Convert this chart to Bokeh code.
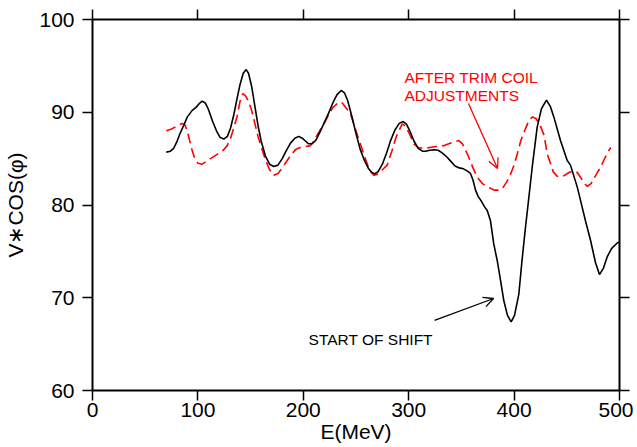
from bokeh.plotting import figure
from bokeh.models import LinearAxis, Range1d, Label, Arrow, OpenHead, FixedTicker
from bokeh.embed import file_html
from bokeh.resources import INLINE

# --- data ---
black_x = [70, 74, 77, 80, 83, 86.6, 90, 94.6, 98, 101, 104, 107, 110, 114, 118, 121, 124.6,
           128, 131, 134, 137, 140, 143, 145.8, 148, 151, 154, 157, 160, 164, 168, 172, 176,
           180, 184, 188, 192, 195.7, 199, 202, 205, 208.4, 212, 216, 220, 224, 228, 232, 236,
           239, 242, 246, 250, 254, 258, 262, 265, 267.6, 271, 275, 279, 283, 287, 291, 294.8,
           298, 301, 305, 309, 313, 316, 320, 324, 328, 332, 336, 340, 344, 348, 352, 355,
           358.6, 361, 363.4, 366, 369, 372, 374.5, 377.6, 380.7, 384, 387.1, 390.2, 393.7,
           397.2, 400.4, 404.5, 407.5, 410.8, 413.7, 417.2, 421.9, 426, 430.7, 434.5, 437.7,
           444, 450.4, 453.5, 460, 463, 467.7, 472.5, 477.2, 481, 484.8, 488.3, 492.4, 497.8, 500]
black_y = [85.7, 85.8, 86.1, 86.8, 87.7, 88.6, 89.5, 90.2, 90.5, 90.9, 91.2, 91.0, 90.3, 89.0, 87.9, 87.3, 87.1,
           87.4, 88.3, 89.7, 91.4, 93.0, 94.2, 94.6, 94.2, 92.8, 90.7, 88.6, 86.9, 85.3, 84.4, 84.15, 84.3,
           85.0, 85.9, 86.7, 87.2, 87.4, 87.2, 86.9, 86.6, 86.6, 87.0, 87.9, 88.9, 89.9, 91.0, 91.9, 92.35,
           92.1, 91.3, 89.6, 87.7, 86.0, 84.8, 83.9, 83.5, 83.36, 83.6, 84.4, 85.6, 87.0, 88.1, 88.8, 89.0,
           88.7, 88.0, 86.9, 86.1, 85.8, 85.8, 85.9, 85.95, 85.9, 85.6, 85.2, 84.7, 84.2, 84.0, 83.9, 83.7,
           83.4, 82.7, 81.6, 80.9, 80.4, 79.8, 79.4, 78.3, 75.8, 74.0, 71.9, 69.7, 68.1,
           67.4, 68.1, 70.4, 74.0, 77.6, 80.5, 84.1, 88.4, 90.4, 91.3, 90.6, 89.5,
           86.95, 84.8, 84.3, 81.9, 80.5, 78.3, 76.2, 73.8, 72.5, 73.2, 74.4, 75.3, 75.9, 76.0]

red_x = [70, 75, 80, 85, 88, 91, 94, 97, 100, 104, 108, 112, 116, 120, 124, 127.8, 131, 134, 137.3,
         140, 142.6, 145, 148, 151, 154, 157, 160, 164, 168, 172, 176, 180, 184.7, 189, 193, 197.3,
         202, 206.8, 210, 214, 219.5, 224, 228, 233.7, 237, 241, 244.8, 248, 252, 257.4, 261, 264,
         266.9, 270, 275, 279.6, 284, 288, 293.8, 297, 301, 304.9, 309, 314.3, 320, 326, 333.3, 338,
         343, 347.6, 351, 354, 357, 361, 365, 370, 374, 377.6, 381, 385, 389, 393, 396.9, 400, 403,
         406.4, 410, 414, 417.5, 421, 425, 428.5, 431.4, 434.8, 437, 440.9, 444.3, 448, 452, 456.7,
         460, 463, 466, 469.6, 473, 476, 479, 482.2, 485, 488, 491.7]
red_y = [88.0, 88.2, 88.5, 88.8, 88.6, 87.5, 86.1, 85.0, 84.5, 84.4, 84.7, 85.0, 85.3, 85.6, 85.9, 86.4, 87.2, 88.3, 89.6,
         91.2, 92.0, 91.8, 91.2, 90.2, 88.8, 87.4, 86.3, 84.9, 83.8, 83.2, 83.4, 84.0, 84.8, 85.5, 86.0, 86.2,
         86.3, 86.4, 86.9, 87.7, 88.75, 89.7, 90.5, 91.1, 91.0, 90.4, 89.8, 88.7, 87.3, 85.5, 84.3, 83.6,
         83.2, 83.3, 83.8, 84.3, 85.8, 87.3, 88.75, 88.5, 87.6, 86.6, 86.2, 86.1, 86.2, 86.3, 86.4, 86.6,
         86.8, 86.95, 86.6, 85.9, 85.15, 84.0, 83.0, 82.3, 82.0, 81.8, 81.6, 81.6, 81.8, 82.5, 83.4, 84.3, 85.5,
         86.95, 88.0, 89.1, 89.5, 89.3, 88.5, 87.5, 85.5, 84.4, 83.6, 83.1, 83.0, 83.2, 83.5, 83.7,
         83.5, 83.0, 82.4, 82.0, 82.3, 82.9, 83.5, 84.1, 84.8, 85.5, 86.2]

x_ticks = [0, 100, 200, 300, 400, 500]
y_ticks = [60, 70, 80, 90, 100]
x_label = "E(MeV)"
y_label = "V∗COS(φ)"
note_red = ["AFTER TRIM COIL", "ADJUSTMENTS"]
note_black = "START OF SHIFT"

FONT = "Liberation Sans"

p = figure(width=633, height=447, x_range=Range1d(0, 500), y_range=Range1d(60, 100),
           output_backend="svg", toolbar_location=None,
           min_border_left=92, min_border_right=14, min_border_top=19, min_border_bottom=57)
p.background_fill_color = "white"
p.border_fill_color = "white"
p.outline_line_color = None
p.xgrid.visible = False
p.ygrid.visible = False


def base_style(ax, ticks):
    ax.ticker = FixedTicker(ticks=ticks)
    ax.axis_line_color = "black"
    ax.axis_line_width = 2
    ax.major_tick_line_color = "black"
    ax.major_tick_line_width = 1.5
    ax.major_tick_out = 10
    ax.major_tick_in = 0
    ax.minor_tick_line_color = None


xa = p.xaxis[0]
ya = p.yaxis[0]
base_style(xa, x_ticks)
base_style(ya, y_ticks)
for ax in (xa, ya):
    ax.major_label_text_font = FONT
    ax.major_label_text_font_size = "21px"
    ax.major_label_text_color = "black"
    ax.axis_label_text_font = FONT
    ax.axis_label_text_font_size = "21px"
    ax.axis_label_text_font_style = "normal"
    ax.axis_label_text_color = "black"
xa.axis_label = x_label
ya.axis_label = y_label
xa.major_label_standoff = 2
xa.axis_label_standoff = 0
ya.major_label_standoff = 8
ya.axis_label_standoff = 9

top = LinearAxis()
right = LinearAxis()
p.add_layout(top, "above")
p.add_layout(right, "right")
base_style(top, x_ticks)
base_style(right, y_ticks)
top.major_label_overrides = {t: "" for t in x_ticks}
right.major_label_overrides = {t: "" for t in y_ticks}
top.major_label_standoff = 0
right.major_label_standoff = 0

p.line(red_x, red_y, line_color="#ff0000", line_width=1.6, line_dash="10 5")
p.line(black_x, black_y, line_color="black", line_width=1.6)

p.add_layout(Label(x=296, y=93.75, text=note_red[0], text_color="#ff0000", text_font=FONT,
                   text_font_size="15.5px", text_baseline="alphabetic"))
p.add_layout(Label(x=296, y=91.8, text=note_red[1], text_color="#ff0000", text_font=FONT,
                   text_font_size="15.5px", text_baseline="alphabetic"))
p.add_layout(Label(x=205, y=65.5, text=note_black, text_color="black", text_font=FONT,
                   text_font_size="15.5px", text_baseline="alphabetic"))

p.add_layout(Arrow(end=OpenHead(size=10, line_color="#ff0000", line_width=1.3),
                   x_start=356.7, y_start=90.94, x_end=384.3, y_end=83.94,
                   line_color="#ff0000", line_width=1.3))
p.add_layout(Arrow(end=OpenHead(size=10, line_color="black", line_width=1.3),
                   x_start=324.5, y_start=67.55, x_end=380.5, y_end=69.92,
                   line_color="black", line_width=1.3))

open("out.html", "w").write(file_html(p, INLINE))
